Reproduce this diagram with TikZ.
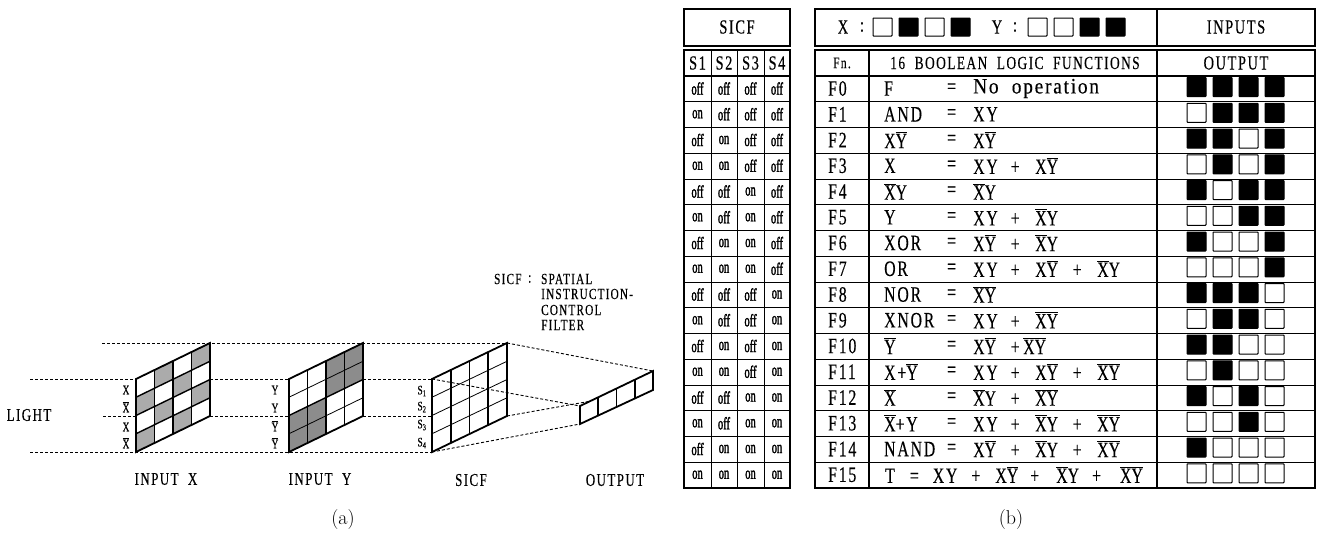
\documentclass[tikz,border=0pt]{standalone}
\usepackage{fontspec}
\newfontfamily\printfont[FakeStretch=0.72,LetterSpace=8,FakeBold=0.3]{Liberation Serif}
\newfontfamily\widefont[FakeStretch=0.88,LetterSpace=8,FakeBold=0.3]{Liberation Serif}
\newfontfamily\swfont[FakeStretch=0.6,FakeBold=1.6]{Liberation Serif}
\newcommand{\nt}[1]{$\overline{\mbox{#1}}$}
\newcommand{\tm}[1]{\makebox[34pt][l]{#1}}
\newcommand{\pl}{\makebox[16pt][c]{+}\hspace{12pt}}
\tikzset{
    frame/.style={line width=1.7pt},
    cell/.style={line width=1pt},
    beam/.style={line width=0.9pt,dash pattern=on 3pt off 2pt},
    wire/.style={line width=1.8pt,line join=miter},
    thinwire/.style={line width=0.8pt},
    xshade/.style={fill=black!33},
    yshade/.style={fill=black!45},
    sq0/.style={draw,line width=1pt,fill=white,rounded corners=0.6pt},
    sq1/.style={draw,line width=1pt,fill=black,rounded corners=0.6pt},
    lab/.style={font=\printfont\fontsize{18}{18}\selectfont,inner sep=0pt},
    mini/.style={font=\printfont\fontsize{13}{13}\selectfont,inner sep=0pt},
    note/.style={font=\printfont\fontsize{15.5}{15.5}\selectfont,inner sep=0pt,anchor=west},
    head/.style={font=\printfont\fontsize{20}{20}\selectfont,inner sep=0pt},
    rowtxt/.style={font=\printfont\fontsize{22}{22}\selectfont,inner sep=0pt,anchor=west},
    sw/.style={font=\swfont\fontsize{17.5}{17.5}\selectfont,inner sep=0pt},
    captxt/.style={font=\fontsize{20}{20}\selectfont,inner sep=0pt}
}
\begin{document}
\begin{tikzpicture}[x=1pt,y=-1pt]
    \useasboundingbox (0,0) rectangle (1320,533);

    % corners of the panels
    \coordinate (xtl) at (136,379); \coordinate (xtr) at (210,343);
    \coordinate (xbl) at (136,452); \coordinate (xbr) at (210,416);
    \coordinate (xlm) at (136,416); \coordinate (xrm) at (210,379);
    \coordinate (ytl) at (289,379); \coordinate (ytr) at (363,343);
    \coordinate (ybl) at (289,452); \coordinate (ybr) at (363,416);
    \coordinate (ylm) at (289,416); \coordinate (yrm) at (363,379);
    \coordinate (stl) at (432,379); \coordinate (str) at (507,343);
    \coordinate (sbl) at (432,452); \coordinate (sbr) at (507,416);
    \coordinate (slm) at (432,416);
    \coordinate (otl) at (580,406); \coordinate (otr) at (653,371);
    \coordinate (obl) at (580,424); \coordinate (obr) at (653,390);
    \coordinate (topend) at (102,343); \coordinate (midend) at (103,416);
    \coordinate (lightup) at (30,379); \coordinate (lightlow) at (30,452);

    % light rays
    \draw[beam] (topend) -- (xtr) -- (ytr) -- (str);
    \draw[beam] (lightup) -- (xtl);
    \draw[beam] (xrm) -- (ytl);
    \draw[beam] (yrm) -- (stl);
    \draw[beam] (midend) -- (xlm);
    \draw[beam] (xbr) -- (ylm);
    \draw[beam] (ybr) -- (slm);
    \draw[beam] (lightlow) -- (xbl) -- (ybl) -- (sbl);
    \draw[beam] (str) -- (otr);
    \draw[beam] (stl) -- (otl);
    \draw[beam] (sbr) -- (obr);
    \draw[beam] (sbl) -- (obl);

    % input X
    \begin{scope}[shift={(136,379)}]
        \foreach \i/\j in {0/1,0/3,1/0,1/2,2/1,2/3,3/0,3/2}
            \fill[xshade] ({18.5*\i},{18.25*\j-9*\i}) -- ++(18.5,-9) -- ++(0,18.25) -- ++(-18.5,9) -- cycle;
        \foreach \i in {1,2,3}
            \draw[wire] ({18.5*\i},{-9*\i}) -- ++(0,73);
        \foreach \j in {1,2,3}
            \draw[line width=1.4pt] (0,{18.25*\j}) -- ++(74,-36);
    \end{scope}
    \draw[wire] (xtl) -- (xtr) -- (xbr) -- (xbl) -- cycle;

    % input Y
    \begin{scope}[shift={(289,379)}]
        \foreach \i/\j in {0/2,0/3,1/2,1/3,2/0,2/1,3/0,3/1}
            \fill[yshade] ({18.5*\i},{18.25*\j-9*\i}) -- ++(18.5,-9) -- ++(0,18.25) -- ++(-18.5,9) -- cycle;
        \foreach \i in {1,2,3}
            \draw[wire] ({18.5*\i},{-9*\i}) -- ++(0,73);
        \foreach \j in {1,3}
            \draw[thinwire] (0,{18.25*\j}) -- ++(74,-36);
        \draw[line width=1.4pt] (0,36.5) -- ++(74,-36);
    \end{scope}
    \draw[wire] (ytl) -- (ytr) -- (ybr) -- (ybl) -- cycle;

    % SICF panel
    \begin{scope}[shift={(432,379)}]
        \foreach \i in {1,2,3}
            \draw[wire] ({18.75*\i},{-9*\i}) -- ++(0,73);
        \foreach \j in {1,2,3}
            \draw[thinwire] (0,{18.25*\j}) -- ++(75,-36);
    \end{scope}
    \draw[wire] (stl) -- (str) -- (sbr) -- (sbl) -- cycle;

    % output strip
    \draw[wire,fill=white] (otl) -- (otr) -- (obr) -- (obl) -- cycle;
    \foreach \i in {1,2,3}
        \draw[wire] ({580+18.25*\i},{406-8.75*\i}) -- ++(0,18.5);

    % side labels
    \node[mini] (lx1) at (126,390) {X};
    \node[mini] (lx2) at (126,407) {\nt{X}};
    \node[mini] (lx3) at (126,427) {X};
    \node[mini] (lx4) at (126,443) {\nt{X}};
    \node[mini] (ly1) at (275,390) {Y};
    \node[mini] (ly2) at (275,408) {Y};
    \node[mini] (ly3) at (275,426) {\nt{Y}};
    \node[mini] (ly4) at (275,443) {\nt{Y}};
    \foreach \i/\ypos in {1/391,2/407,3/425,4/443}
        \node[mini] (ls\i) at (422,\ypos) {S\textsubscript{\i}};

    \node[lab] (light) at (29,415) {LIGHT};
    \node[lab] (inx) at (166,479) {INPUT\ \ X};
    \node[lab] (iny) at (320,479) {INPUT\ \ Y};
    \node[lab] (sicf) at (471,480) {SICF};
    \node[lab] (outp) at (615,480) {OUTPUT};
    \node[note] (sname) at (494,279) {SICF};
    \node[note] (scolon) at (528,279) {:};
    \node[note] (n1) at (541,279) {SPATIAL};
    \node[note] (n2) at (541,294) {INSTRUCTION-};
    \node[note] (n3) at (541,310) {CONTROL};
    \node[note] (n4) at (541,325) {FILTER};
    \node[captxt] (capa) at (343,520) {(a)};
    \node[captxt] (capb) at (1011,520) {(b)};

    % SICF table
    \draw[frame] (684,9) rectangle (790,46);
    \node[head] (hsicf) at (737,27) {SICF};
    \foreach \rowi in {1,...,16}
        \draw[cell] (684,{76+25.75*(\rowi-1)}) -- (790,{76+25.75*(\rowi-1)});
    \foreach \xpos in {711,737,764}
        \draw[cell] (\xpos,50) -- (\xpos,488);
    \draw[frame] (684,50) rectangle (790,488);
    \draw[frame] (684,76) -- (790,76);
    \foreach \k/\xpos in {1/697.5,2/724,3/750.5,4/777}
        \node[head] (sh\k) at (\xpos,63) {S\k};
    \foreach \rowi in {0,...,15} {
        \foreach \k/\xpos in {0/697.5,1/724,2/750.5,3/777} {
            \pgfmathtruncatemacro{\bit}{mod(floor(\rowi/2^\k),2)}
            \node[sw] (sw\rowi-\k) at (\xpos,{88.5+25.75*\rowi}) {\ifnum\bit=1 on\else off\fi};
        }
    }

    % function table
    \draw[frame] (815,9) rectangle (1315,46);
    \draw[frame] (1157,9) -- (1157,46);
    \node[head] (hx) at (843,27) {X};
    \node[head] (hxc) at (862,27) {:};
    \node[head] (hy) at (997,27) {Y};
    \node[head] (hyc) at (1015,27) {:};
    \node[head] (hin) at (1236,27) {INPUTS};
    \foreach \xpos/\v in {873/0,899/1,925/0,951/1,1028/0,1054/0,1080/1,1106/1}
        \draw[sq\v] (\xpos,18) rectangle ++(19,18);
    \foreach \rowi in {1,...,16}
        \draw[cell] (815,{76+25.75*(\rowi-1)}) -- (1315,{76+25.75*(\rowi-1)});
    \draw[frame] (815,50) rectangle (1315,488);
    \draw[frame] (869,50) -- (869,488);
    \draw[frame] (1157,50) -- (1157,488);
    \draw[frame] (815,76) -- (1315,76);
    \node[font=\printfont\fontsize{16}{16}\selectfont,inner sep=0pt] (hfn) at (842,63) {Fn.};
    \node[font=\printfont\fontsize{18.5}{18.5}\selectfont,inner sep=0pt] (hbool) at (1015,63) {16\ \ BOOLEAN\ \ LOGIC\ \ FUNCTIONS};
    \node[head] (hout) at (1236,63) {OUTPUT};

    \foreach \rowi/\fname/\rhs in {
        0/F/{{\widefont\fontsize{22}{22}\selectfont No\ \ operation}},
        1/AND/{XY},
        2/X\nt{Y}/{X\nt{Y}},
        3/X/{\tm{XY}\pl X\nt{Y}},
        4/\nt{X}Y/{\nt{X}Y},
        5/Y/{\tm{XY}\pl\nt{X}Y},
        6/XOR/{\tm{X\nt{Y}}\pl\nt{X}Y},
        7/OR/{\tm{XY}\pl\tm{X\nt{Y}}\pl\nt{X}Y},
        8/NOR/{\nt{X}\nt{Y}},
        9/XNOR/{\tm{XY}\pl\nt{X}\nt{Y}},
        10/\nt{Y}/{\tm{X\nt{Y}}\makebox[16pt][c]{+}\nt{X}\nt{Y}},
        11/X+\nt{Y}/{\tm{XY}\pl\tm{X\nt{Y}}\pl\nt{X}\nt{Y}},
        12/\nt{X}/{\tm{\nt{X}Y}\pl\nt{X}\nt{Y}},
        13/\nt{X}+Y/{\tm{XY}\pl\tm{\nt{X}Y}\pl\nt{X}\nt{Y}},
        14/NAND/{\tm{X\nt{Y}}\pl\tm{\nt{X}Y}\pl\nt{X}\nt{Y}}} {
        \node[rowtxt] (fn\rowi) at (828,{88.5+25.75*\rowi}) {F\rowi};
        \node[rowtxt] (nm\rowi) at (884,{88.5+25.75*\rowi}) {\fname};
        \node[rowtxt] (eq\rowi) at (947,{88.5+25.75*\rowi}) {=};
        \node[rowtxt] (fx\rowi) at (973,{88.5+25.75*\rowi}) {\rhs};
    }
    \node[rowtxt] (fn15) at (828,474.75) {F15};
    \node[rowtxt] (fx15) at (885,474.75) {T\hspace{15pt}=\hspace{14pt}XY\hspace{14pt}+\hspace{15pt}X\nt{Y}\hspace{12pt}+\hspace{17pt}\nt{X}Y\hspace{13pt}+\hspace{19pt}\nt{X}\nt{Y}};

    % output squares
    \foreach \rowi/\a/\b/\c/\d in {
        0/1/1/1/1,1/0/1/1/1,2/1/1/0/1,3/0/1/0/1,4/1/0/1/1,5/0/0/1/1,6/1/0/0/1,7/0/0/0/1,
        8/1/1/1/0,9/0/1/1/0,10/1/1/0/0,11/0/1/0/0,12/1/0/1/0,13/0/0/1/0,14/1/0/0/0,15/0/0/0/0} {
        \draw[sq\a] (1187,{77.5+25.75*\rowi}) rectangle ++(19,19);
        \draw[sq\b] (1213,{77.5+25.75*\rowi}) rectangle ++(19,19);
        \draw[sq\c] (1239,{77.5+25.75*\rowi}) rectangle ++(19,19);
        \draw[sq\d] (1265,{77.5+25.75*\rowi}) rectangle ++(19,19);
    }
\end{tikzpicture}
\end{document}
